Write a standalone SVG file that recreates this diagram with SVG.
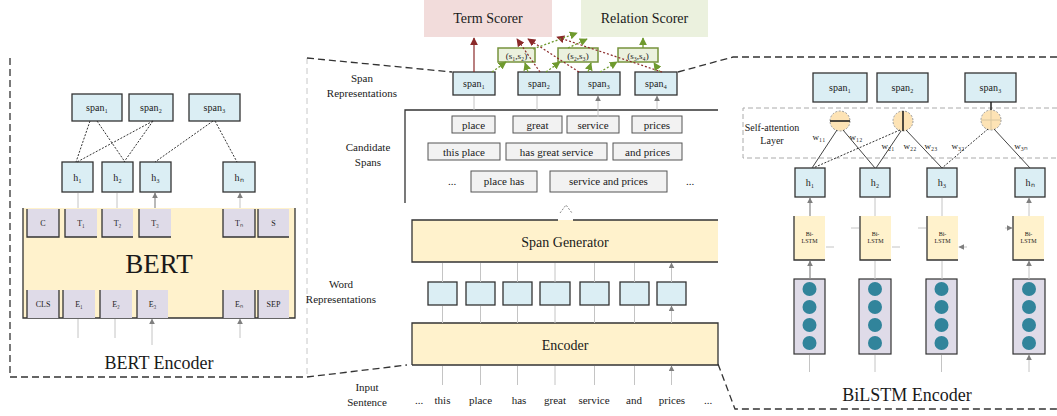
<svg xmlns="http://www.w3.org/2000/svg" width="1057" height="416" viewBox="0 0 1057 416">
<defs>
  <marker id="ah-gray" viewBox="0 0 10 10" refX="9" refY="5" markerWidth="6" markerHeight="6" markerUnits="userSpaceOnUse" orient="auto"><path d="M0,0 L10,5 L0,10 z" fill="#7f7f7f"/></marker>
  <marker id="ah-red" viewBox="0 0 10 10" refX="9" refY="5" markerWidth="8" markerHeight="8" markerUnits="userSpaceOnUse" orient="auto"><path d="M0,0 L10,5 L0,10 z" fill="#8b2a2a"/></marker>
  <marker id="ah-green" viewBox="0 0 10 10" refX="9" refY="5" markerWidth="8" markerHeight="8" markerUnits="userSpaceOnUse" orient="auto"><path d="M0,0 L10,5 L0,10 z" fill="#6f9a2e"/></marker>
</defs>
<style>
  text{font-family:"Liberation Serif","Times New Roman",serif;fill:#1a1a1a;text-anchor:middle}
  .lbl{font-size:11px}
  .sm{font-size:10px}
  .tiny{font-size:8px}
  .pt{font-size:9px}
  .blue{fill:#dbeef4;stroke:#333;stroke-width:1.3}
  .lav{fill:#dfdbe8}
  .edge{fill:none;stroke:#333;stroke-width:1.3}
  .yel{fill:#fff2cc}
  .cand{fill:#f2f2f2;stroke:#555;stroke-width:1}
  .pair{fill:#ebf1de;stroke:#77933c;stroke-width:1.5}
  .up{stroke:#c4c4c4;stroke-width:1;fill:none;marker-end:url(#ah-gray)}
  .upd{stroke:#8a8a8a;stroke-width:1.2;fill:none;marker-end:url(#ah-gray)}
  .frame{fill:none;stroke:#333;stroke-width:1.3;stroke-dasharray:7 4}
  .frame-l{fill:none;stroke:#c8c8c8;stroke-width:1;stroke-dasharray:6 4}
  .dot{fill:none;stroke:#333;stroke-width:1;stroke-dasharray:2 1.5}
  .wline{fill:none;stroke:#444;stroke-width:1}
  .red{fill:none;stroke:#8b2a2a;stroke-width:1.2;marker-end:url(#ah-red)}
  .redd{fill:none;stroke:#8b2a2a;stroke-width:1.2;stroke-dasharray:2 2;marker-end:url(#ah-red)}
  .grn{fill:none;stroke:#6f9a2e;stroke-width:1.3;marker-end:url(#ah-green)}
  .grnd{fill:none;stroke:#6f9a2e;stroke-width:1.3;stroke-dasharray:2 2;marker-end:url(#ah-green)}
  .teal{fill:#31849b}
  .att{fill:#fde3b5;stroke:#999;stroke-width:1;stroke-dasharray:2 1.5}
</style>

<!-- panel outlines -->
<g id="frames">
  <path class="frame" d="M10,58 V377 H307 L407,365"/>
  <path class="frame-l" d="M307,58 V377"/>
  <path class="frame" d="M307,58 L452,72"/>
  <path class="frame" d="M678,72 L733,57 H1057"/>
  <path class="frame" d="M718,364 L735,409 H1057"/>
</g>

<!-- ============ BERT encoder panel ============ -->
<g id="bert-spans">
  <rect class="blue" x="72" y="94" width="50" height="27"/><text class="sm" x="97" y="111">span₁</text>
  <rect class="blue" x="129" y="94" width="44" height="27"/><text class="sm" x="151" y="111">span₂</text>
  <rect class="blue" x="189" y="94" width="51" height="27"/><text class="sm" x="214.5" y="111">span₃</text>
</g>
<g id="bert-h">
  <rect class="blue" x="62" y="162" width="31" height="30"/><text class="sm" x="77.5" y="181">h₁</text>
  <rect class="blue" x="102" y="162" width="31" height="30"/><text class="sm" x="117.5" y="181">h₂</text>
  <rect class="blue" x="140" y="162" width="31" height="30"/><text class="sm" x="155.5" y="181">h₃</text>
  <rect class="blue" x="223" y="162" width="32" height="30"/><text class="sm" x="239" y="181">hₙ</text>
</g>
<g id="bert-block">
  <rect class="yel" x="23" y="208" width="272" height="110"/>
  <path class="edge" d="M23,208 V318 H295 V208"/>
  <text x="159" y="273" style="font-size:27px">BERT</text>
  <g id="bert-t">
    <rect class="lav" x="27" y="209" width="32" height="28"/><path class="edge" d="M27,209 V237 H59 V209"/><text class="tiny" x="43" y="226">C</text>
    <rect class="lav" x="65" y="209" width="32" height="28"/><path class="edge" d="M65,209 V237 H97"/><text class="tiny" x="81" y="226">T₁</text>
    <rect class="lav" x="102" y="209" width="31" height="28"/><path class="edge" d="M102,209 V237 H133"/><text class="tiny" x="117.5" y="226">T₂</text>
    <rect class="lav" x="139" y="209" width="32" height="28"/><path class="edge" d="M139,209 V237 H171"/><text class="tiny" x="155" y="226">T₃</text>
    <rect class="lav" x="223" y="209" width="32" height="28"/><path class="edge" d="M223,209 V237 H255 V209"/><text class="tiny" x="239" y="226">Tₙ</text>
    <rect class="lav" x="258" y="209" width="31" height="28"/><path class="edge" d="M258,209 V237 H289"/><text class="tiny" x="273.5" y="226">S</text>
  </g>
  <g id="bert-e">
    <rect class="lav" x="27" y="290" width="32" height="28"/><path class="edge" d="M27,290 V318 M59,290 V318"/><text class="tiny" x="43" y="307">CLS</text>
    <rect class="lav" x="63" y="290" width="32" height="28"/><path class="edge" d="M63,290 V318"/><text class="tiny" x="79" y="307">E₁</text>
    <rect class="lav" x="100" y="290" width="32" height="28"/><path class="edge" d="M100,290 V318"/><text class="tiny" x="116" y="307">E₂</text>
    <rect class="lav" x="137" y="290" width="31" height="28"/><path class="edge" d="M137,290 V318"/><text class="tiny" x="152.5" y="307">E₃</text>
    <rect class="lav" x="223" y="290" width="32" height="28"/><path class="edge" d="M223,290 V318 M255,290 V318"/><text class="tiny" x="239" y="307">Eₙ</text>
    <rect class="lav" x="258" y="290" width="31" height="28"/><path class="edge" d="M258,290 V318"/><text class="tiny" x="273.5" y="307">SEP</text>
  </g>
</g>
<text x="159" y="369" style="font-size:18px">BERT Encoder</text>

<g id="bert-connectors">
  <path class="dot" d="M90,121 L76,162 M97,121 L125,162 M153,121 L77,162 M153,121 L124,162 M213,121 L155,162 M215,121 L237,162"/>
  <path class="up" d="M78,208 V193 M117,208 V193 M240,208 V193"/>
  <path class="upd" d="M155,208 V193"/>
  <path class="up" d="M78,338 V319 M115,338 V319 M240,338 V319"/>
  <path class="up" d="M152,345 V319"/>
</g>

<!-- ============ central pipeline ============ -->
<g id="term-scorer">
  <rect x="424" y="0" width="128" height="37" fill="#f2dcdb"/>
  <text x="488" y="23" style="font-size:14px">Term Scorer</text>
</g>
<g id="relation-scorer">
  <rect x="581" y="0" width="127" height="37" fill="#ebf1de"/>
  <text x="644.5" y="23" style="font-size:14px">Relation Scorer</text>
</g>

<g id="pairs">
  <rect class="pair" x="498" y="48" width="37" height="14"/><text class="pt" x="516.5" y="58.5">(s₁,s₂)</text>
  <rect class="pair" x="558" y="48" width="40" height="14"/><text class="pt" x="578" y="58.5">(s₂,s₃)</text>
  <rect class="pair" x="618" y="48" width="40" height="14"/><text class="pt" x="638" y="58.5">(s₃,s₄)</text>
</g>

<g id="span-reps">
  <rect class="blue" x="453" y="72" width="42" height="23"/><text class="sm" x="474" y="87">span₁</text>
  <rect class="blue" x="518" y="72" width="42" height="23"/><text class="sm" x="539" y="87">span₂</text>
  <rect class="blue" x="578" y="72" width="42" height="23"/><text class="sm" x="599" y="87">span₃</text>
  <rect class="blue" x="635" y="72" width="42" height="23"/><text class="sm" x="656" y="87">span₄</text>
</g>
<text class="lbl" x="362" y="82">Span</text>
<text class="lbl" x="362" y="97">Representations</text>

<g id="candidate-spans">
  <path class="edge" d="M405,203 V110 H718"/>
  <rect class="cand" x="452" y="116" width="43" height="17"/><text class="lbl" x="473.5" y="128.5">place</text>
  <rect class="cand" x="513" y="116" width="49" height="17"/><text class="lbl" x="537.5" y="128.5">great</text>
  <rect class="cand" x="567" y="116" width="52" height="17"/><text class="lbl" x="593" y="128.5">service</text>
  <rect class="cand" x="632" y="116" width="50" height="17"/><text class="lbl" x="657" y="128.5">prices</text>
  <rect class="cand" x="428" y="143" width="72" height="17"/><text class="lbl" x="464" y="155.5">this place</text>
  <rect class="cand" x="506" y="143" width="101" height="17"/><text class="lbl" x="556.5" y="155.5">has great service</text>
  <rect class="cand" x="613" y="143" width="69" height="17"/><text class="lbl" x="647.5" y="155.5">and prices</text>
  <text class="lbl" x="452" y="185">...</text>
  <rect class="cand" x="471" y="171" width="66" height="21"/><text class="lbl" x="504" y="185">place has</text>
  <rect class="cand" x="550" y="171" width="117" height="21"/><text class="lbl" x="608.5" y="185">service and prices</text>
  <text class="lbl" x="690" y="185">...</text>
</g>
<text class="lbl" x="368" y="151">Candidate</text>
<text class="lbl" x="368" y="166">Spans</text>

<g id="span-generator">
  <rect class="yel" x="412" y="220" width="306" height="42"/>
  <path class="edge" d="M558,220 H412 V262 H718 M573,220 H718"/>
  <text x="565" y="247" style="font-size:14px">Span Generator</text>
</g>

<g id="word-reps">
  <rect class="blue" x="428" y="282" width="29" height="23"/>
  <rect class="blue" x="466" y="282" width="29" height="23"/>
  <rect class="blue" x="503" y="282" width="29" height="23"/>
  <rect class="blue" x="540" y="282" width="30" height="23"/>
  <rect class="blue" x="580" y="282" width="29" height="23"/>
  <rect class="blue" x="620" y="282" width="29" height="23"/>
  <rect class="blue" x="657" y="282" width="29" height="23"/>
</g>
<text class="lbl" x="341" y="288">Word</text>
<text class="lbl" x="341" y="303">Representations</text>

<g id="encoder">
  <rect class="yel" x="412" y="323" width="306" height="42"/>
  <path class="edge" d="M412,365 V323 H718 V365 H412"/>
  <text x="565" y="350" style="font-size:14px">Encoder</text>
</g>

<g id="input-sentence">
  <text class="lbl" x="419" y="404">...</text>
  <text class="lbl" x="442.5" y="404">this</text>
  <text class="lbl" x="480.5" y="404">place</text>
  <text class="lbl" x="519" y="404">has</text>
  <text class="lbl" x="555" y="404">great</text>
  <text class="lbl" x="594" y="404">service</text>
  <text class="lbl" x="634" y="404">and</text>
  <text class="lbl" x="672" y="404">prices</text>
  <text class="lbl" x="708" y="404">...</text>
</g>
<text class="lbl" x="367" y="391">Input</text>
<text class="lbl" x="367" y="406">Sentence</text>

<g id="center-connectors">
  <!-- span representations to scorers -->
  <path class="red" d="M474,72 V38"/>
  <path class="redd" d="M540,72 L517,39"/>
  <path class="redd" d="M579,72 L528,39"/>
  <path class="redd" d="M662,72 L557,37"/>
  <path class="grnd" d="M492,72 L506,62"/>
  <path class="grnd" d="M528,72 L525,63"/>
  <path class="grnd" d="M546,72 L560,62"/>
  <path class="grnd" d="M588,72 L591,63"/>
  <path class="grnd" d="M600,72 L617,62"/>
  <path class="grnd" d="M660,72 L654,63"/>
  <path class="grnd" d="M533,49 L577,33"/>
  <path class="grnd" d="M568,48 L587,39"/>
  <path class="grn" d="M643,48 V38"/>
  <!-- candidate spans to span representations -->
  <path class="up" d="M474,110 V96 M537,110 V96 M657,110 V96"/>
  <path class="up" d="M598,117 V96"/>
  <!-- span generator output -->
  <path d="M560,213 L566,205 L572,213" fill="#fff" stroke="#888" stroke-width="1" stroke-dasharray="2 1.5"/>
  <!-- word representations to span generator -->
  <path class="up" d="M442.5,282 V263 M480.5,282 V263 M517.5,282 V263 M555,282 V263 M594.5,282 V263 M634.5,282 V263 M671.5,282 V263"/>
  <!-- encoder to word representations -->
  <path class="up" d="M442.5,323 V306 M480.5,323 V306 M517.5,323 V306 M555,323 V306 M594.5,323 V306 M634.5,323 V306 M671.5,323 V306"/>
  <!-- input tokens to encoder -->
  <path class="up" d="M442.5,385 V366 M480.5,385 V366 M517.5,385 V366 M555,385 V366 M594.5,385 V366 M634.5,385 V366 M671.5,385 V366"/>
</g>

<!-- ============ BiLSTM encoder panel ============ -->
<g id="bilstm-spans">
  <rect class="blue" x="813" y="73" width="54" height="29"/><text class="sm" x="840" y="91">span₁</text>
  <rect class="blue" x="877" y="73" width="51" height="29"/><text class="sm" x="902.5" y="91">span₂</text>
  <rect class="blue" x="965" y="73" width="51" height="29"/><text class="sm" x="990.5" y="91">span₃</text>
</g>

<g id="self-attention">
  <path d="M1057,108 H743 V158 H1057" fill="none" stroke="#aaa" stroke-width="1" stroke-dasharray="5 3"/>
  <text class="sm" x="772" y="131">Self-attention</text>
  <text class="sm" x="772" y="144">Layer</text>
  <circle class="att" cx="840" cy="121" r="10"/>
  <path d="M830,121 H850" stroke="#222" stroke-width="1.6"/>
  <circle class="att" cx="903" cy="121" r="10"/>
  <path d="M903,111 V131" stroke="#222" stroke-width="1.6"/>
  <circle class="att" cx="991" cy="120" r="10"/>
  <path d="M981,120 H1001 M991,110 V130" stroke="#d8c6a0" stroke-width="1"/>
  <path d="M991,102 V110" stroke="#222" stroke-width="1.5"/>
</g>

<g id="bilstm-h">
  <rect class="blue" x="795" y="168" width="30" height="29"/><text class="sm" x="810" y="186">h₁</text>
  <rect class="blue" x="860" y="168" width="30" height="29"/><text class="sm" x="875" y="186">h₂</text>
  <rect class="blue" x="927" y="168" width="30" height="29"/><text class="sm" x="942" y="186">h₃</text>
  <rect class="blue" x="1015" y="168" width="30" height="29"/><text class="sm" x="1030" y="186">hₙ</text>
</g>

<g id="attention-weights">
  <path class="wline" d="M837,130 L812,168 M843,130 L875,168 M901,131 L876,168 M906,130 L942,168 M994,129 L1030,168"/>
  <path class="dot" d="M900,130 L813,168 M988,129 L942,168"/>
  <text class="pt" x="819" y="140">w₁₁</text>
  <text class="pt" x="856" y="140">w₁₂</text>
  <text class="pt" x="888" y="149">w₂₁</text>
  <text class="pt" x="910" y="149">w₂₂</text>
  <text class="pt" x="931" y="149">w₂₃</text>
  <text class="pt" x="958" y="149">w₃₂</text>
  <text class="pt" x="1021" y="149">w₃ₙ</text>
</g>

<g id="bilstm-cells">
  <rect class="yel" x="794" y="216" width="31" height="44"/><path class="edge" d="M794,216 V260 H825"/>
  <text x="809.5" y="236" style="font-size:6px">Bi-</text><text x="809.5" y="243" style="font-size:6px">LSTM</text>
  <rect class="yel" x="860" y="216" width="31" height="44"/><path class="edge" d="M860,216 V260 H891"/>
  <text x="875.5" y="236" style="font-size:6px">Bi-</text><text x="875.5" y="243" style="font-size:6px">LSTM</text>
  <rect class="yel" x="927" y="216" width="31" height="44"/><path class="edge" d="M927,216 V260 H958"/>
  <text x="942.5" y="236" style="font-size:6px">Bi-</text><text x="942.5" y="243" style="font-size:6px">LSTM</text>
  <rect class="yel" x="1013" y="216" width="31" height="44"/><path class="edge" d="M1013,216 V260 H1044"/>
  <text x="1028.5" y="236" style="font-size:6px">Bi-</text><text x="1028.5" y="243" style="font-size:6px">LSTM</text>
</g>

<g id="embeddings">
  <rect class="lav" x="794" y="279" width="31" height="75" stroke="#333" stroke-width="1.2"/>
  <rect class="lav" x="859" y="279" width="32" height="75" stroke="#333" stroke-width="1.2"/>
  <rect class="lav" x="926" y="279" width="31" height="75" stroke="#333" stroke-width="1.2"/>
  <rect class="lav" x="1013" y="279" width="32" height="75" stroke="#333" stroke-width="1.2"/>
  <g class="teal">
    <circle cx="809.5" cy="289" r="7"/><circle cx="809.5" cy="307" r="7"/><circle cx="809.5" cy="325" r="7"/><circle cx="809.5" cy="343" r="7"/>
    <circle cx="875" cy="289" r="7"/><circle cx="875" cy="307" r="7"/><circle cx="875" cy="325" r="7"/><circle cx="875" cy="343" r="7"/>
    <circle cx="941.5" cy="289" r="7"/><circle cx="941.5" cy="307" r="7"/><circle cx="941.5" cy="325" r="7"/><circle cx="941.5" cy="343" r="7"/>
    <circle cx="1029" cy="289" r="7"/><circle cx="1029" cy="307" r="7"/><circle cx="1029" cy="325" r="7"/><circle cx="1029" cy="343" r="7"/>
  </g>
</g>
<text x="907" y="401" style="font-size:18px">BiLSTM Encoder</text>

<g id="bilstm-connectors">
  <path class="upd" d="M810,216 V198"/>
  <path class="up" d="M875,216 V198 M942,216 V198 M1029,216 V198"/>
  <path class="upd" d="M810,279 V261"/>
  <path class="up" d="M875,279 V261 M942,279 V261 M1029,279 V261"/>
  <path class="up" d="M809.5,372 V355 M875,372 V355 M941.5,372 V355 M1029,372 V355"/>
  <!-- recurrent links between neighbouring cells -->
  <path class="up" d="M851,228 H859 M918,228 H926 M1005,228 H1012"/>
  <path class="up" d="M834,247 H826 M900,247 H892 M967,247 H959"/>
</g>
</svg>
